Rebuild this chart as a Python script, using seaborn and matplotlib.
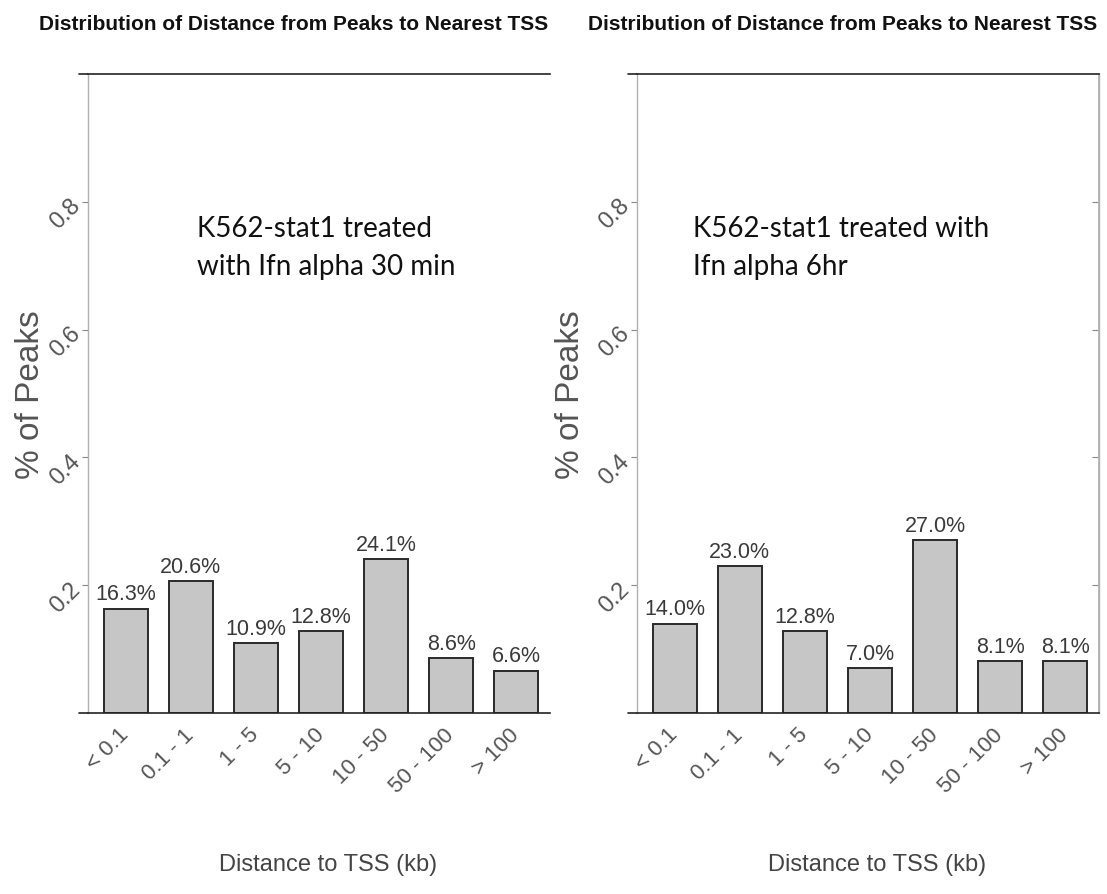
import matplotlib
matplotlib.use("Agg")
import matplotlib.pyplot as plt
import seaborn as sns
import numpy as np

categories = ["< 0.1", "0.1 - 1", "1 - 5", "5 - 10", "10 - 50", "50 - 100", "> 100"]
values_30min = [0.163, 0.206, 0.109, 0.128, 0.241, 0.086, 0.066]
values_6hr = [0.140, 0.230, 0.128, 0.070, 0.270, 0.081, 0.081]
labels_30min = ["16.3%", "20.6%", "10.9%", "12.8%", "24.1%", "8.6%", "6.6%"]
labels_6hr = ["14.0%", "23.0%", "12.8%", "7.0%", "27.0%", "8.1%", "8.1%"]
yticks = [0.2, 0.4, 0.6, 0.8]
ytick_labels = ["0.2", "0.4", "0.6", "0.8"]
title = "Distribution of Distance from Peaks to Nearest TSS"
notes = ["K562-stat1 treated\nwith Ifn alpha 30 min", "K562-stat1 treated with\nIfn alpha 6hr"]

sns.set_theme(style="white")
plt.rcParams['font.family'] = ['Liberation Sans', 'DejaVu Sans']

W, H = 1107, 895
fig = plt.figure(figsize=(W / 100, H / 100), dpi=100)

panels = [
    dict(left=88, vals=values_30min, labs=labels_30min, note=notes[0], note_x=197, title_x=294,
         right_spine=False, ylab_x=-0.125),
    dict(left=637, vals=values_6hr, labs=labels_6hr, note=notes[1], note_x=693, title_x=843,
         right_spine=True, ylab_x=-0.145),
]
ax_w = 462
top_px, bot_px = 75, 714

for p in panels:
    ax = fig.add_axes([p["left"] / W, 1 - bot_px / H, ax_w / W, (bot_px - top_px) / H])
    sns.barplot(x=categories, y=p["vals"], ax=ax, color="#c6c6c6", saturation=1,
                edgecolor="#2a2a2a", linewidth=1.4, width=0.67)
    ax.set_xlim(-0.58, 6.52)
    ax.set_ylim(0, 1.0)
    ax.set_yticks(yticks)
    ax.set_yticklabels(ytick_labels, rotation=45, ha="right", va="center",
                       rotation_mode="anchor", color="#555555", fontsize=17)
    ax.set_xticks(range(len(categories)))
    ax.set_xticklabels(categories, rotation=45, ha="right", va="center",
                       rotation_mode="anchor", color="#555555", fontsize=16)
    ax.tick_params(axis="y", left=True, length=4, width=0.8, color="#888888", pad=4)
    ax.tick_params(axis="x", bottom=False, pad=7)
    for s in ["left", "right"]:
        ax.spines[s].set_color("#b0b0b0")
        ax.spines[s].set_linewidth(1.0)
    for s in ["top", "bottom"]:
        ax.spines[s].set_color("#222222")
        ax.spines[s].set_linewidth(1.2)
    ax.spines["right"].set_visible(p["right_spine"])
    if p["right_spine"]:
        sec = ax.secondary_yaxis("right")
        sec.set_yticks(yticks)
        sec.set_yticklabels([])
        sec.tick_params(direction="in", length=5, width=0.8, color="#888888")
        sec.spines["right"].set_color("#b0b0b0")
    # short extensions of top and bottom frame lines to the left of the y axis
    for yy in (0, 1):
        ax.plot([-0.02, 0], [yy, yy], transform=ax.transAxes, color="#222222",
                lw=1.2, clip_on=False)
    ax.set_xlabel("")
    ax.set_ylabel("")
    for i, (v, lab) in enumerate(zip(p["vals"], p["labs"])):
        ax.text(i, v + 0.007, lab, ha="center", va="bottom", fontsize=15.5,
                color="#3a3a3a")
    ax.text(0.52, -0.236, "Distance to TSS (kb)", transform=ax.transAxes, ha="center",
            va="center", fontsize=17, color="#444444")
    ax.text(p["ylab_x"], 0.5, "% of Peaks",
            transform=ax.transAxes, rotation=90, ha="center", va="center",
            fontsize=24, color="#555555")
    fig.text(p["note_x"] / W, 1 - 216 / H, p["note"], ha="left", va="top",
             fontsize=20, color="#111111", family=["Lato", "DejaVu Sans"], linespacing=1.55)
    fig.text(p["title_x"] / W, 1 - 25 / H, title, ha="center", va="center",
             fontsize=15, fontweight="bold", color="#111111")

fig.savefig("out.png", dpi=100)
